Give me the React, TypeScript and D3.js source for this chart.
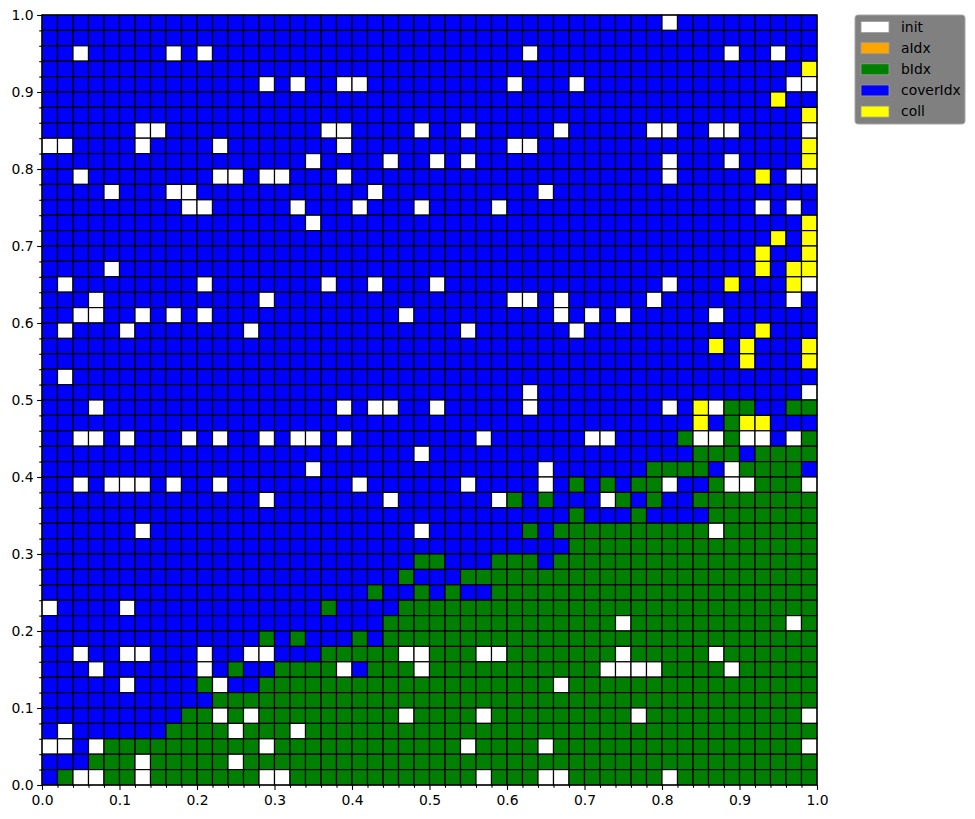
import React, { useEffect, useRef } from 'react'
import * as d3 from 'd3'

// legend entries and the one-letter code used for them in the grid rows
const categories = ['init', 'aIdx', 'bIdx', 'coverIdx', 'coll']
const categoryCodes = ['W', 'A', 'G', 'B', 'Y']
const categoryColors = ['#ffffff', '#ffa500', '#008000', '#0000ff', '#ffff00']

const tickValues = [0, 0.1, 0.2, 0.3, 0.4, 0.5, 0.6, 0.7, 0.8, 0.9, 1.0]
const tickLabels = ['0.0', '0.1', '0.2', '0.3', '0.4', '0.5', '0.6', '0.7', '0.8', '0.9', '1.0']

const gridSize = 50
// one string per row, top row (y 0.98-1.00) first; spaces only split the columns for reading
const gridRows = [
  'BBBBBBBBBBBBBBBBB BBBBBBBBBBBBBBBBB BBBBBBWBBBBBBBBB',
  'BBBBBBBBBBBBBBBBB BBBBBBBBBBBBBBBBB BBBBBBBBBBBBBBBB',
  'BBWBBBBBWBWBBBBBB BBBBBBBBBBBBBBWBB BBBBBBBBBBWBBWBB',
  'BBBBBBBBBBBBBBBBB BBBBBBBBBBBBBBBBB BBBBBBBBBBBBBBBY',
  'BBBBBBBBBBBBBBWBW BBWWBBBBBBBBBWBBB WBBBBBBBBBBBBBWW',
  'BBBBBBBBBBBBBBBBB BBBBBBBBBBBBBBBBB BBBBBBBBBBBBBYBB',
  'BBBBBBBBBBBBBBBBB BBBBBBBBBBBBBBBBB BBBBBBBBBBBBBBBY',
  'BBBBBBWWBBBBBBBBB BWWBBBBWBBWBBBBBW BBBBBWWBBWWBBBBW',
  'WWBBBBWBBBBWBBBBB BBWBBBBBBBBBBWWBB BBBBBBBBBBBBBBBY',
  'BBBBBBBBBBBBBBBBB WBBBBWBBWBWBBBBBB BBBBBBWBBBWBBBBY',
  'BBWBBBBBBBBWWBWWB BBWBBBBBBBBBBBBBB BBBBBBWBBBBBYBWW',
  'BBBBWBBBWWBBBBBBB BBBBWBBBBBBBBBBWB BBBBBBBBBBBBBBBB',
  'BBBBBBBBBWWBBBBBW BBBWBBBWBBBBWBBBB BBBBBBBBBBBBWBWB',
  'BBBBBBBBBBBBBBBBB WBBBBBBBBBBBBBBBB BBBBBBBBBBBBBBBY',
  'BBBBBBBBBBBBBBBBB BBBBBBBBBBBBBBBBB BBBBBBBBBBBBBYBY',
  'BBBBBBBBBBBBBBBBB BBBBBBBBBBBBBBBBB BBBBBBBBBBBBYBBY',
  'BBBBWBBBBBBBBBBBB BBBBBBBBBBBBBBBBB BBBBBBBBBBBBYBYY',
  'BWBBBBBBBBWBBBBBB BWBBWBBBWBBBBBBBB BBBBBBWBBBYBBBYW',
  'BBBWBBBBBBBBBBWBB BBBBBBBBBBBBBWWBW BBBBBWBBBBBBBBWB',
  'BBWWBBWBWBWBBBBBB BBBBBBWBBBBBBBBBW BWBWBBBBBWBBBBBB',
  'BWBBBWBBBBBBBWBBB BBBBBBBBBBWBBBBBB WBBBBBBBBBBBYBBB',
  'BBBBBBBBBBBBBBBBB BBBBBBBBBBBBBBBBB BBBBBBBBBYBYBBBY',
  'BBBBBBBBBBBBBBBBB BBBBBBBBBBBBBBBBB BBBBBBBBBBBYBBBY',
  'BWBBBBBBBBBBBBBBB BBBBBBBBBBBBBBBBB BBBBBBBBBBBBBBBB',
  'BBBBBBBBBBBBBBBBB BBBBBBBBBBBBBBWBB BBBBBBBBBBBBBBBW',
  'BBBWBBBBBBBBBBBBB BBWBWWBBWBBBBBWBB BBBBBBWBYWGGBBGG',
  'BBBBBBBBBBBBBBBBB BBBBBBBBBBBBBBBBB BBBBBBBBYBGYYBBB',
  'BBWWBWBBBWBWBBWBW WBWBBBBBBBBWBBBBB BWWBBBBGWWGWWBWG',
  'BBBBBBBBBBBBBBBBB BBBBBBBWBBBBBBBBB BBBBBBBBGGGBGGGG',
  'BBBBBBBBBBBBBBBBB WBBBBBBBBBBBBBBWB BBBBBGGGGBWGGGGB',
  'BBWBWWWBWBBWBBBBB BBBWBBBBBBWBBBBWB GBGBGGWBBGWWGGGW',
  'BBBBBBBBBBBBBBWBB BBBBBWBBBBBBWGBGB BBWGBGBBGGGGGGGG',
  'BBBBBBBBBBBBBBBBB BBBBBBBBBBBBBBBBB GBBBGBBBBGGGGGGG',
  'BBBBBBWBBBBBBBBBB BBBBBBBWBBBBBBGBG GGGGGGGGGWGGGGGG',
  'BBBBBBBBBBBBBBBBB BBBBBBBBBBBBBBBBB GGGGGGGGGGGGGGGG',
  'BBBBBBBBBBBBBBBBB BBBBBBBGGBBBGGGBG GGGGGGGGGGGGGGGG',
  'BBBBBBBBBBBBBBBBB BBBBBBGBBBGGGGGGG GGGGGGGGGGGGGGGG',
  'BBBBBBBBBBBBBBBBB BBBBGBBGBGBBGGGGG GGGGGGGGGGGGGGGG',
  'WBBBBWBBBBBBBBBBB BGBBBBGGGGGGGGGGG GGGGGGGGGGGGGGGG',
  'BBBBBBBBBBBBBBBBB BBBBBGGGGGGGGGGGG GGGWGGGGGGGGGGWG',
  'BBBBBBBBBBBBBBGBG BBBGBGGGGGGGGGGGG GGGGGGGGGGGGGGGG',
  'BBWBBWWBBBWBBWWBB BGGGGGWWGGGWWGGGG GGGWGGGGGWGGGGGG',
  'BBBWBBBBBBWBGBBGG GGWBGGGWGGGGGGGGG GGWWWWGGGGWGGGGG',
  'BBBBBWBBBBGWBBGGG GGGGGGGGGGGGGGGGW GGGGGGGGGGGGGGGG',
  'BBBBBBBBBBBGGGGGG GGGGGGGGGGGGGGGGG GGGGGGGGGGGGGGGG',
  'BBBBBBBBBGGWGWGGG GGGGGGWGGGGWGGGGG GGGGWGGGGGGGGGGW',
  'BWBBBBBBGGGGWGGGW GGGGGGGGGGGGGGGGG GGGGGGGGGGGGGGGG',
  'WWBWGGGGGGGGGGWGG GGGGGGGGGGWGGGGWG GGGGGGGGGGGGGGGW',
  'BBBGGGWGGGGGWGGGG GGGGGGGGGGGGGGGGG GGGGGGGGGGGGGGGG',
  'BGWWGGWGGGGGGGWWG GGGGGGGGGGGWGGGWW GGGGGGWGGGGGGGGG',
]

const FONT = "'DejaVu Sans', sans-serif"

function GridChart() {
  const svgRef = useRef<SVGSVGElement>(null)

  useEffect(() => {
    const width = 975
    const height = 819
    const left = 42, right = 817, top = 15, bottom = 785

    const svg = d3.select(svgRef.current)
    svg.selectAll('*').remove()
    svg.attr('width', width).attr('height', height)

    const x = d3.scaleLinear().domain([0, 1]).range([left, right])
    const y = d3.scaleLinear().domain([0, 1]).range([bottom, top])
    const color = d3.scaleOrdinal<string, string>().domain(categoryCodes).range(categoryColors)

    const step = 1 / gridSize
    const cells: { r: number; c: number; code: string }[] = []
    gridRows.forEach((row, r) => {
      row.replace(/ /g, '').split('').forEach((code, c) => cells.push({ r, c, code }))
    })

    // cells
    svg.append('g')
      .selectAll('rect')
      .data(cells)
      .join('rect')
      .attr('x', d => x(d.c * step))
      .attr('y', d => y(1 - d.r * step))
      .attr('width', d => x((d.c + 1) * step) - x(d.c * step))
      .attr('height', d => y(1 - (d.r + 1) * step) - y(1 - d.r * step))
      .attr('fill', d => color(d.code))
      .attr('stroke', '#000')
      .attr('stroke-width', 1.2)

    // frame
    svg.append('rect')
      .attr('x', left).attr('y', top)
      .attr('width', right - left).attr('height', bottom - top)
      .attr('fill', 'none').attr('stroke', '#000').attr('stroke-width', 1.1)

    // minor ticks on every cell boundary
    const minorValues = d3.range(gridSize + 1).map(i => i * step).filter(v => Math.abs(v * 10 - Math.round(v * 10)) > 1e-6)

    const styleAxis = (g: d3.Selection<SVGGElement, unknown, null, undefined>) => {
      g.select('.domain').remove()
      g.selectAll('.tick line').attr('stroke', '#000').attr('stroke-width', 1.1)
      g.selectAll('.tick text').attr('fill', '#000')
      g.attr('font-family', FONT).attr('font-size', 13.9)
    }

    svg.append('g')
      .attr('transform', `translate(0,${bottom})`)
      .call(d3.axisBottom(x).tickValues(tickValues).tickFormat((d, i) => tickLabels[i]).tickSize(4.9).tickPadding(4.9).tickSizeOuter(0))
      .call(styleAxis)
    svg.append('g')
      .attr('transform', `translate(0,${bottom})`)
      .call(d3.axisBottom(x).tickValues(minorValues).tickFormat(() => '').tickSize(2.8).tickSizeOuter(0))
      .call(styleAxis)

    svg.append('g')
      .attr('transform', `translate(${left},0)`)
      .call(d3.axisLeft(y).tickValues(tickValues).tickFormat((d, i) => tickLabels[i]).tickSize(4.9).tickPadding(3.5).tickSizeOuter(0))
      .call(styleAxis)
    svg.append('g')
      .attr('transform', `translate(${left},0)`)
      .call(d3.axisLeft(y).tickValues(minorValues).tickFormat(() => '').tickSize(2.8).tickSizeOuter(0))
      .call(styleAxis)

    // legend
    const legend = svg.append('g').attr('transform', 'translate(855,15)')
    legend.append('rect')
      .attr('width', 110).attr('height', 109).attr('rx', 3)
      .attr('fill', '#808080').attr('stroke', '#a6a6a6').attr('stroke-width', 1)
    const items = legend.selectAll('g.item')
      .data(categories)
      .join('g')
      .attr('class', 'item')
      .attr('transform', (d, i) => `translate(0,${12 + i * 21.15})`)
    items.append('rect')
      .attr('x', 6).attr('y', -5.5)
      .attr('width', 28).attr('height', 11)
      .attr('fill', (d, i) => categoryColors[i])
      .attr('stroke', '#9a9a9a').attr('stroke-width', 0.8)
    items.append('text')
      .attr('x', 46).attr('dy', '0.35em')
      .attr('font-family', FONT).attr('font-size', 13.9)
      .attr('fill', '#000')
      .text(d => d)
  }, [])

  return <svg ref={svgRef} style={{ position: 'absolute', left: 0, top: 0 }}></svg>
}

export default function App() {
  return <GridChart />
}
